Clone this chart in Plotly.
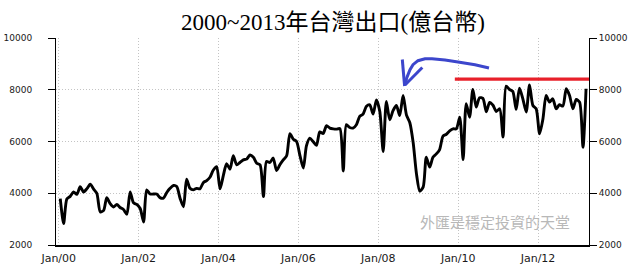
import pandas as pd
import plotly.graph_objects as go

# ---------------- data ----------------
START_MONTH = "2000-01-01"
# monthly exports (億台幣), Jan 2000 .. Mar 2013
exports_2000 = [3790, 2830, 3780, 3880, 4050, 3960, 4250, 4050, 4180, 4350, 4160, 3990]
exports_2001 = [3280, 3340, 3830, 3600, 3470, 3570, 3450, 3370, 3190, 4050, 3630, 3570]
exports_2002 = [3410, 2890, 4130, 3970, 3970, 3970, 3830, 3810, 4030, 4190, 4300, 4260]
exports_2003 = [3800, 3480, 4540, 4190, 4130, 4190, 4170, 4410, 4490, 4620, 4900, 5030]
exports_2004 = [4170, 4700, 5140, 4930, 5450, 5100, 5190, 5290, 5320, 5480, 5390, 5160]
exports_2005 = [5100, 3870, 5230, 5190, 5360, 4880, 5100, 5290, 5450, 6300, 6090, 6000]
exports_2006 = [5450, 4970, 5830, 6130, 6000, 5850, 6370, 6310, 6610, 6520, 6490, 6480]
exports_2007 = [6500, 4860, 6650, 6540, 6520, 6650, 6970, 7060, 7360, 7420, 7060, 7610]
exports_2008 = [7160, 5610, 7550, 6840, 7190, 7390, 7000, 7780, 7020, 6735, 5960, 4760]
exports_2009 = [4080, 4245, 5390, 5010, 5390, 5520, 5690, 6210, 6280, 6410, 6490, 6490]
exports_2010 = [6940, 5300, 7460, 6940, 8010, 7330, 7690, 7665, 7150, 7510, 7400, 7160]
exports_2011 = [7265, 6170, 8140, 8010, 7935, 7240, 8060, 7650, 7140, 8190, 7390, 7265]
exports_2012 = [6300, 6880, 7780, 7520, 7650, 7265, 7420, 7370, 8040, 7780, 7265, 7625]
exports_2013 = [7520, 5780, 8040]

exports = (exports_2000 + exports_2001 + exports_2002 + exports_2003 + exports_2004 +
           exports_2005 + exports_2006 + exports_2007 + exports_2008 + exports_2009 +
           exports_2010 + exports_2011 + exports_2012 + exports_2013)

x_tick_dates = ["2000-01-01", "2002-01-01", "2004-01-01", "2006-01-01",
                "2008-01-01", "2010-01-01", "2012-01-01"]
x_tick_labels = ["Jan/00", "Jan/02", "Jan/04", "Jan/06", "Jan/08", "Jan/10", "Jan/12"]
y_tick_values = [2000, 4000, 6000, 8000, 10000]
y_tick_labels = ["2000", "4000", "6000", "8000", "10000"]

REFERENCE_LEVEL = 8410          # red line level
REFERENCE_START = "2009-12-01"

TITLE = "2000~2013年台灣出口(億台幣)"
WATERMARK = "外匯是穩定投資的天堂"

# ---------------- layout constants ----------------
W, H = 637, 271
ML, MR, MT, MB = 56, 48, 38, 26
X_RANGE = ["1999-12-07", "2013-04-11"]
Y_RANGE = [2000, 10000]

PW = W - ML - MR
PH = H - MT - MB


def px_to_paper(px, py):
    return (px - ML) / PW, (H - MB - py) / PH


# hand-drawn arrow, in pixel positions
ARROW_CURVE_PX = [(489, 68), (475, 64.7), (458, 62), (445, 60), (432, 58.7), (425, 58.7),
                  (418, 60.7), (413, 64.7), (410, 69.7), (406.7, 78), (405, 85.5)]
ARROW_HEAD_LEFT_PX = [(402.3, 59.5), (404.6, 86)]
ARROW_HEAD_RIGHT_PX = [(422.3, 67.5), (405.5, 84.5)]


def path_from(points):
    parts = []
    for i, (px, py) in enumerate(points):
        xp, yp = px_to_paper(px, py)
        parts.append(("M" if i == 0 else "L") + f"{xp:.5f},{yp:.5f}")
    return " ".join(parts)


dates = pd.date_range(START_MONTH, periods=len(exports), freq="MS") + pd.Timedelta(days=14)

fig = go.Figure()
fig.add_trace(go.Scatter(
    x=dates, y=exports, mode="lines",
    line=dict(color="black", width=2.9, shape="spline", smoothing=0.7),
    hoverinfo="skip", showlegend=False,
))
# invisible trace to activate the right-hand axis
fig.add_trace(go.Scatter(
    x=dates, y=exports, yaxis="y2", mode="lines",
    line=dict(color="rgba(0,0,0,0)", width=0), hoverinfo="skip", showlegend=False,
))

grid = "#c4c4c4"
grid_dash = "1px,2px"
tick_font_y = dict(family="DejaVu Sans", size=9, color="#1a1a1a")
tick_font_x = dict(family="DejaVu Sans", size=11, color="#1a1a1a")

fig.update_layout(
    width=W, height=H,
    margin=dict(l=ML, r=MR, t=MT, b=MB, autoexpand=False),
    paper_bgcolor="white", plot_bgcolor="white",
    showlegend=False,
    title=dict(
        text=TITLE, x=333 / W, xref="container", xanchor="center",
        y=1 - 22 / H, yref="container", yanchor="middle",
        font=dict(family="Liberation Serif, Noto Sans CJK TC", size=23, color="black"),
    ),
    xaxis=dict(
        type="date", range=X_RANGE,
        tickmode="array", tickvals=x_tick_dates, ticktext=x_tick_labels,
        showgrid=True, gridcolor=grid, griddash=grid_dash, gridwidth=1,
        showline=True, linecolor="black", linewidth=2,
        ticks="", tickfont=tick_font_x, ticklabelstandoff=2,
        zeroline=False, fixedrange=True,
    ),
    yaxis=dict(
        range=Y_RANGE, tickmode="array", tickvals=y_tick_values, ticktext=y_tick_labels,
        showgrid=True, gridcolor=grid, griddash=grid_dash, gridwidth=1,
        showline=True, linecolor="black", linewidth=1,
        ticks="outside", ticklen=7, tickwidth=1, tickcolor="black",
        tickfont=tick_font_y, ticklabelstandoff=14,
        zeroline=False, fixedrange=True,
    ),
    yaxis2=dict(
        range=Y_RANGE, overlaying="y", side="right", anchor="x",
        tickmode="array", tickvals=y_tick_values, ticktext=y_tick_labels,
        showgrid=False, showline=True, linecolor="black", linewidth=1,
        ticks="outside", ticklen=7, tickwidth=1, tickcolor="black",
        tickfont=tick_font_y, ticklabelstandoff=0,
        zeroline=False, fixedrange=True,
    ),
)

# red reference line
fig.add_shape(type="line", xref="x", yref="y",
              x0=REFERENCE_START, x1=X_RANGE[1], y0=REFERENCE_LEVEL, y1=REFERENCE_LEVEL,
              line=dict(color="#e8202a", width=3.3), layer="above")

# blue hand-drawn arrow
for pts in (ARROW_CURVE_PX, ARROW_HEAD_LEFT_PX, ARROW_HEAD_RIGHT_PX):
    fig.add_shape(type="path", xref="paper", yref="paper", path=path_from(pts),
                  line=dict(color="#3c46cc", width=3), layer="above")

# watermark
wx, wy = px_to_paper(494.5, 221)
fig.add_annotation(text=WATERMARK, xref="paper", yref="paper", x=wx, y=wy,
                   xanchor="center", yanchor="middle", showarrow=False,
                   font=dict(family="Noto Sans CJK TC", size=15, color="#b8b8b8"))

fig.write_html("out.html")
